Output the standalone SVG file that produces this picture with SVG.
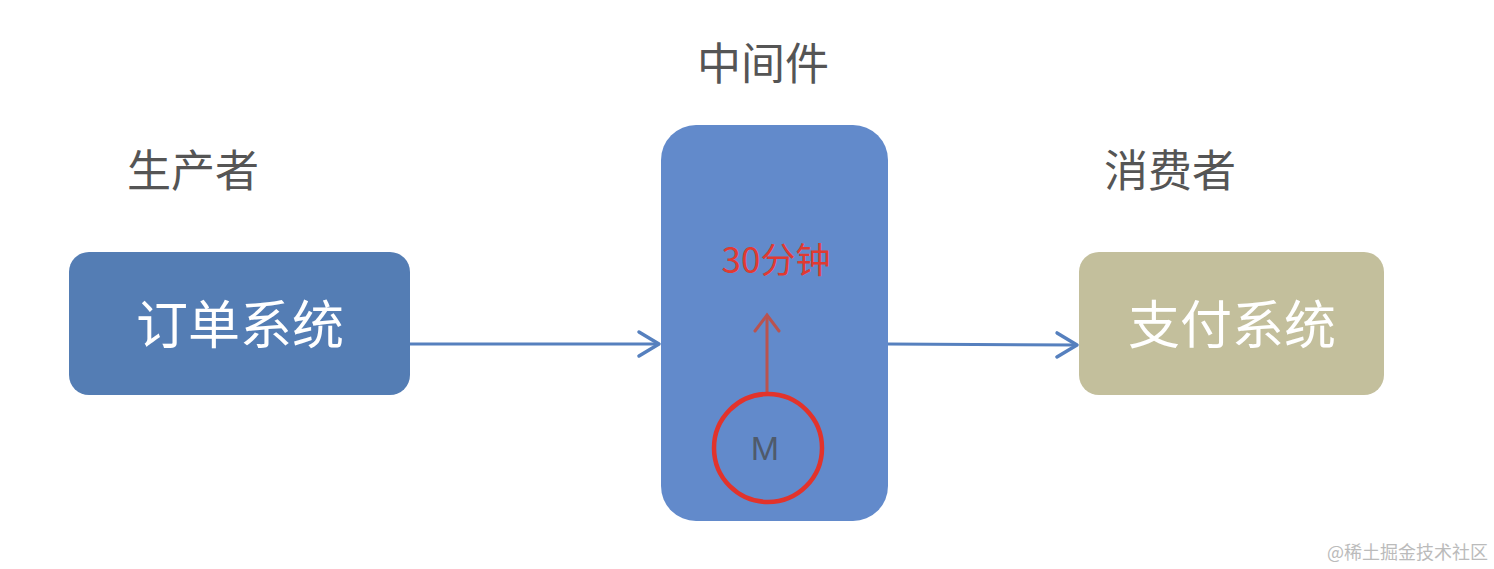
<svg xmlns="http://www.w3.org/2000/svg" width="1494" height="569" viewBox="0 0 1494 569">
<defs>
<style>
.t{font-family:"Noto Sans CJK SC","Liberation Sans",sans-serif;}
.lbl{font-size:44px;fill:#555555;}
.box{font-size:52px;fill:#ffffff;}
.conn{stroke:#5680BE;stroke-width:3;fill:none;}
</style>
<marker id="chev" markerWidth="30" markerHeight="30" viewBox="0 0 30 30" refX="25" refY="15" orient="auto" markerUnits="userSpaceOnUse">
<polyline points="5,3 25,15 5,27" fill="none" stroke="#5680BE" stroke-width="3.5" stroke-linecap="round" stroke-linejoin="round"/>
</marker>
</defs>
<rect width="1494" height="569" fill="#ffffff"/>
<g id="label-producer"><text class="t lbl" x="193" y="168" text-anchor="middle" dominant-baseline="central">生产者</text></g>
<g id="label-middleware"><text class="t lbl" x="763" y="61" text-anchor="middle" dominant-baseline="central">中间件</text></g>
<g id="label-consumer"><text class="t lbl" x="1170" y="168" text-anchor="middle" dominant-baseline="central">消费者</text></g>
<g id="order-system">
<rect x="69" y="252" width="341" height="143" rx="20" fill="#547DB4"/>
<text class="t box" x="240" y="321" text-anchor="middle" dominant-baseline="central">订单系统</text>
</g>
<g id="middleware">
<rect x="661" y="125" width="227" height="396" rx="35" fill="#628ACB"/>
<text class="t" x="776" y="257" font-size="35" fill="#E03A32" text-anchor="middle" dominant-baseline="central">30分钟</text>
<line x1="767" y1="396" x2="767" y2="316" stroke="#B9534F" stroke-width="3"/>
<polyline points="755,331 767,315 779,331" fill="none" stroke="#B9534F" stroke-width="3" stroke-linecap="round"/>
<circle cx="768" cy="448" r="54" fill="none" stroke="#E2332B" stroke-width="4.5"/>
<text x="765" y="448" font-family="Liberation Sans, sans-serif" font-size="34" fill="#4F5A6B" text-anchor="middle" dominant-baseline="central">M</text>
</g>
<g id="payment-system">
<rect x="1079" y="252" width="305" height="143" rx="20" fill="#C3BF9C"/>
<text class="t box" x="1232" y="321" text-anchor="middle" dominant-baseline="central">支付系统</text>
</g>
<g id="connectors">
<line class="conn" x1="410" y1="344" x2="659" y2="344" marker-end="url(#chev)"/>
<line class="conn" x1="888" y1="344" x2="1077" y2="345" marker-end="url(#chev)"/>
</g>
<text class="t" x="1488" y="551" font-size="18" fill="#BBBBBB" text-anchor="end" dominant-baseline="central">@稀土掘金技术社区</text>
</svg>
